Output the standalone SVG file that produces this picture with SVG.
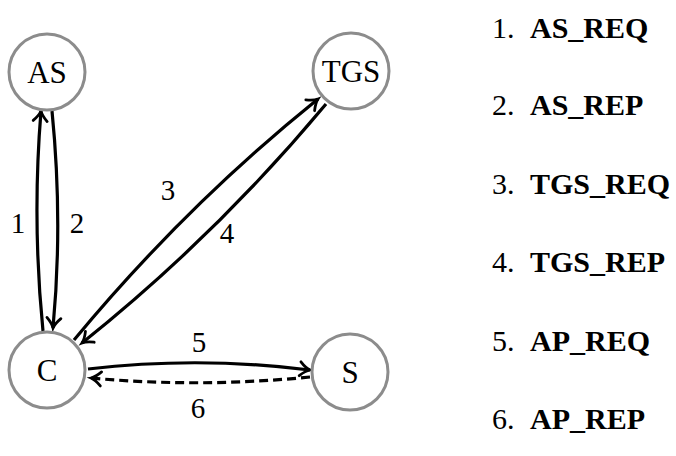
<svg xmlns="http://www.w3.org/2000/svg" width="676" height="456" viewBox="0 0 676 456">
<style>
.node circle{fill:#fff;stroke:#8c8c8c;stroke-width:3}
.node text{font-family:"Liberation Serif","Times New Roman",serif;font-size:31px;text-anchor:middle;fill:#000}
.edge{fill:none;stroke:#000;stroke-width:3.2}
.dash{stroke-dasharray:9,5}
.lbl{font-family:"Liberation Serif","Times New Roman",serif;font-size:29px;text-anchor:middle;fill:#000}
.leg{font-family:"Liberation Serif","Times New Roman",serif;font-size:30px;fill:#000}
.leg tspan.b{font-weight:bold}
</style>
<defs>
<marker id="arr" markerUnits="userSpaceOnUse" markerWidth="22" markerHeight="22" viewBox="-13 -11 15 22" refX="0" refY="0" orient="auto">
<path d="M -10,-7 Q -4.5,-1.5 0,0 Q -4.5,1.5 -10,7" fill="none" stroke="#000" stroke-width="2.8" stroke-linecap="round"/>
</marker>
</defs>
<rect width="676" height="456" fill="#fff"/>
<g id="connectors">
<path class="edge" d="M 43,331 Q 32,221 41,111" marker-end="url(#arr)"/>
<path class="edge" d="M 52,111 Q 63,221 53,328" marker-end="url(#arr)"/>
<path class="edge" d="M 74,340 Q 185,206 318,99" marker-end="url(#arr)"/>
<path class="edge" d="M 326,104 Q 216,236 82,343" marker-end="url(#arr)"/>
<path class="edge" d="M 88,369 Q 199,356 310,370" marker-end="url(#arr)"/>
<path class="edge dash" d="M 310,377 Q 199,388 91,378" marker-end="url(#arr)"/>
<text class="lbl" x="18" y="233">1</text>
<text class="lbl" x="77" y="233">2</text>
<text class="lbl" x="168" y="200">3</text>
<text class="lbl" x="227" y="243">4</text>
<text class="lbl" x="199" y="352">5</text>
<text class="lbl" x="198" y="418">6</text>
</g>
<g id="AS" class="node"><circle cx="47" cy="72" r="38"/><text x="47" y="83">AS</text></g>
<g id="TGS" class="node"><circle cx="351" cy="71" r="38"/><text x="351" y="82">TGS</text></g>
<g id="C" class="node"><circle cx="47" cy="370" r="38"/><text x="47" y="381">C</text></g>
<g id="S" class="node"><circle cx="350" cy="372" r="38"/><text x="350" y="383">S</text></g>
<g id="legend" class="leg">
<text x="492" y="38">1.<tspan class="b" x="530">AS_REQ</tspan></text>
<text x="492" y="115">2.<tspan class="b" x="530">AS_REP</tspan></text>
<text x="492" y="194">3.<tspan class="b" x="530">TGS_REQ</tspan></text>
<text x="492" y="272">4.<tspan class="b" x="530">TGS_REP</tspan></text>
<text x="492" y="351">5.<tspan class="b" x="530">AP_REQ</tspan></text>
<text x="492" y="429">6.<tspan class="b" x="530">AP_REP</tspan></text>
</g>
</svg>
